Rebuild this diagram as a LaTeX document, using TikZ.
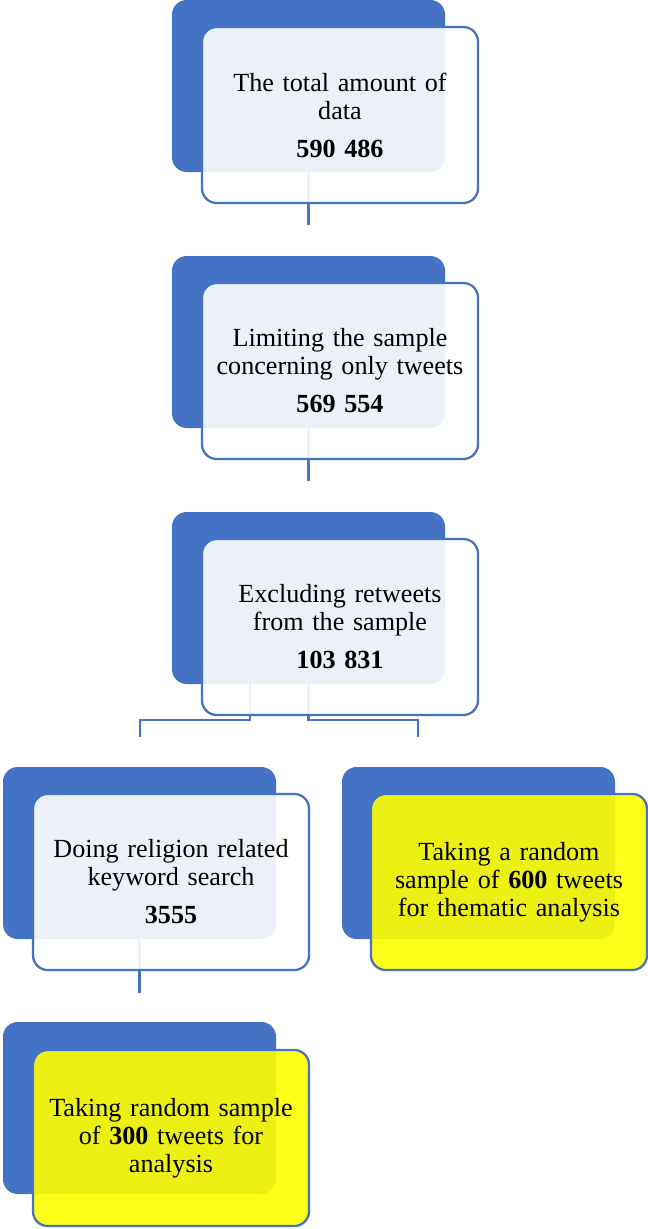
\documentclass[tikz,border=0pt]{standalone}
\usepackage{fontspec}
\setmainfont{Liberation Serif}
\usetikzlibrary{calc}
\definecolor{accent}{HTML}{4472C4}
\definecolor{hilite}{HTML}{FFFF00}
\begin{document}
\begin{tikzpicture}[x=0.75pt,y=-0.75pt,
 backbox/.style={rectangle, rounded corners=11pt, fill=accent, minimum width=204.75pt, minimum height=129pt, inner sep=0pt, outer sep=0pt},
 frontbox/.style={rectangle, rounded corners=11pt, draw=accent, line width=1.7pt, fill=white, fill opacity=0.9, text opacity=1, minimum width=207pt, minimum height=132pt, inner sep=0pt, outer sep=0pt, align=center, text width=195pt, font=\fontsize{19.6}{21}\selectfont},
 yellowbox/.style={frontbox, fill=hilite},
 link/.style={draw=accent, line width=1.7pt}]
\useasboundingbox (0,0) rectangle (648,1229);
% back boxes
\node[backbox] (b1) at (308.5,86) {};
\node[backbox] (b2) at (308.5,342) {};
\node[backbox] (b3) at (308.5,598) {};
\node[backbox] (b4) at (139.5,853) {};
\node[backbox] (b5) at (478.5,853) {};
\node[backbox] (b6) at (139.5,1108) {};
% connectors
\coordinate (c1) at (308.5,225);
\coordinate (c2) at (308.5,481);
\coordinate (c3l) at (140,737);
\coordinate (c3r) at (418,737);
\coordinate (c4) at (139.5,993);
\draw[link] (b1.south) -- (c1);
\draw[link] (b2.south) -- (c2);
\draw[link] ($(b3.south)+(-58.5,0)$) -- ++(0,36) -| (c3l);
\draw[link] (b3.south) -- ++(0,36) -| (c3r);
\draw[link] (b4.south) -- (c4);
% front boxes
\node[frontbox] (f1) at (340,115) {The total amount of\\ data\\[7.5pt] \textbf{590 486}};
\node[frontbox] (f2) at (340,371) {Limiting the sample\\ concerning only tweets\\[7.5pt] \textbf{569 554}};
\node[frontbox] (f3) at (340,627) {Excluding retweets\\ from the sample\\[7.5pt] \textbf{103 831}};
\node[frontbox] (f4) at (171,882) {Doing religion related\\ keyword search\\[7.5pt] \textbf{3555}};
\node[yellowbox] (f5) at (509,882) {Taking a random\\ sample of \textbf{600} tweets\\ for thematic analysis};
\node[yellowbox] (f6) at (171,1138) {Taking random sample\\ of \textbf{300} tweets for\\ analysis};
\end{tikzpicture}
\end{document}
